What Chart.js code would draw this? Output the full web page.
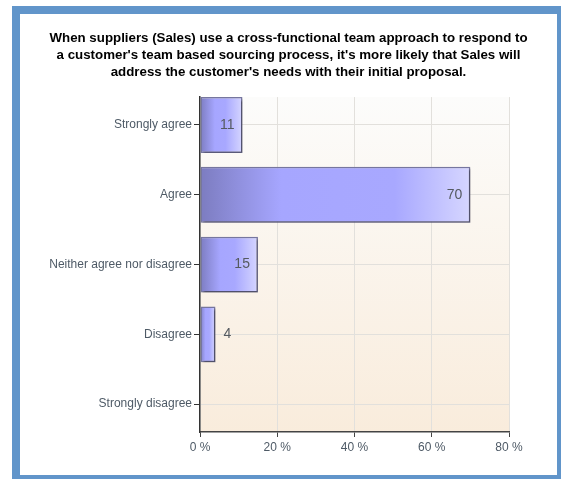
<!DOCTYPE html>
<html>
<head>
<meta charset="utf-8">
<script src="https://cdn.jsdelivr.net/npm/chart.js@4.4.1/dist/chart.umd.min.js"></script>
<style>
  html, body { margin: 0; padding: 0; background: #fff; overflow: hidden; }
  #frame {
    position: absolute; left: 12px; top: 6px;
    width: 553px; height: 477px; box-sizing: border-box;
    border: 8px solid #6195ca; background: #fff;
  }
  #wrap { position: absolute; left: 0; top: 0; width: 537px; height: 461px; }
</style>
</head>
<body>
<div id="frame"><div id="wrap"><canvas id="surveyChart"></canvas></div></div>
<script>
const titleLines = [
    "When suppliers (Sales) use a cross-functional team approach to respond to",
    "a customer's team based sourcing process, it's more likely that Sales will",
    "address the customer's needs with their initial proposal."
];
const answers = ['Strongly agree', 'Agree', 'Neither agree nor disagree', 'Disagree', 'Strongly disagree'];
const percents = [11, 70, 15, 4, 0];
const percentTicks = [0, 20, 40, 60, 80];

const axisFont = "'Liberation Sans', Arial, sans-serif";
const labelColor = '#4e5a66';

document.addEventListener("DOMContentLoaded", () => {
    const canvas = document.getElementById('surveyChart');
    const ctx = canvas.getContext('2d');

    // soft white-to-cream wash behind the plot
    const plotBackground = {
        id: 'plotBackground',
        beforeDraw(chart) {
            const a = chart.chartArea;
            const c = chart.ctx;
            const g = c.createLinearGradient(0, a.top, 0, a.bottom);
            g.addColorStop(0, '#fcfcfb');
            g.addColorStop(1, '#f9ecdc');
            c.save();
            c.fillStyle = g;
            c.fillRect(a.left, a.top, a.right - a.left, a.bottom - a.top);
            c.restore();
        }
    };

    // drop shadow under the bars
    const barShadow = {
        id: 'barShadow',
        beforeDatasetDraw(chart) {
            const c = chart.ctx;
            c.save();
            c.shadowColor = 'rgba(0, 0, 0, 0.35)';
            c.shadowOffsetX = 2;
            c.shadowOffsetY = 2;
            c.shadowBlur = 2;
        },
        afterDatasetDraw(chart) {
            chart.ctx.restore();
        }
    };

    // value at the end of each bar, inside when there is room
    const barValues = {
        id: 'barValues',
        afterDatasetsDraw(chart) {
            const c = chart.ctx;
            const meta = chart.getDatasetMeta(0);
            c.save();
            c.font = '14px ' + axisFont;
            c.fillStyle = '#555a60';
            c.textBaseline = 'middle';
            meta.data.forEach((bar, i) => {
                const v = percents[i];
                if (!v) return;
                const text = String(v);
                const w = c.measureText(text).width;
                if (bar.x - bar.base > w + 16) {
                    c.textAlign = 'right';
                    c.fillText(text, bar.x - 8, bar.y);
                } else {
                    c.textAlign = 'left';
                    c.fillText(text, bar.x + 8, bar.y);
                }
            });
            c.restore();
        }
    };

    function barFill(context) {
        const chart = context.chart;
        if (!chart.chartArea) return '#a6a6ff';
        const x = chart.scales.x;
        const v = percents[context.dataIndex];
        const x0 = x.getPixelForValue(0);
        const x1 = x.getPixelForValue(v);
        if (x1 - x0 < 1) return '#a6a6ff';
        const g = chart.ctx.createLinearGradient(x0, 0, x1, 0);
        const wide = (x1 - x0) > 100;
        g.addColorStop(0, '#7c7cc0');
        g.addColorStop(wide ? 0.3 : 0.35, '#a6a6ff');
        g.addColorStop(wide ? 0.72 : 0.6, '#a8a8ff');
        g.addColorStop(1, '#d6d6ff');
        return g;
    }

    const data = {
        datasets: [{
            label: 'Responses',
            data: percents.map((v, i) => ({ x: v, y: i })),
            backgroundColor: barFill,
            borderColor: '#76769f',
            borderWidth: (context) => percents[context.dataIndex] ? 1.5 : 0,
            borderSkipped: false,
            categoryPercentage: 0.8,
            barPercentage: 1.0
        }]
    };

    const config = {
        type: 'bar',
        data: data,
        options: {
            indexAxis: 'y',
            responsive: true,
            maintainAspectRatio: false,
            animation: false,
            layout: {
                padding: 0
            },
            scales: {
                x: {
                    type: 'linear',
                    min: percentTicks[0],
                    max: percentTicks[percentTicks.length - 1],
                    afterBuildTicks: (scale) => {
                        scale.ticks = percentTicks.map(v => ({ value: v }));
                    },
                    afterFit: (scale) => {
                        scale.height = 43;
                        scale.paddingRight = 48;
                    },
                    grid: {
                        color: '#e2e0dc',
                        tickColor: '#444',
                        tickLength: 5
                    },
                    border: { color: '#444', width: 1.5 },
                    ticks: {
                        color: labelColor,
                        padding: 3,
                        font: { size: 12, family: axisFont },
                        callback: (v) => v + ' %'
                    }
                },
                y: {
                    type: 'linear',
                    reverse: true,
                    bounds: 'data',
                    offset: false,
                    min: -0.4,
                    max: answers.length - 0.6,
                    afterBuildTicks: (scale) => {
                        scale.ticks = answers.map((a, i) => ({ value: i }));
                    },
                    afterFit: (scale) => { scale.width = 180; },
                    grid: {
                        offset: false,
                        color: '#e2e0dc',
                        tickColor: '#333',
                        tickLength: 6
                    },
                    border: { color: '#333', width: 1.5 },
                    ticks: {
                        color: labelColor,
                        padding: 2,
                        font: { size: 12, family: axisFont },
                        callback: (v) => answers[v]
                    }
                }
            },
            plugins: {
                legend: { display: false },
                tooltip: { enabled: false },
                title: {
                    display: true,
                    text: titleLines,
                    color: '#000',
                    font: { size: 13.3, weight: 'bold', family: "'Liberation Sans', Arial, sans-serif", lineHeight: 1.28 },
                    padding: { top: 16, bottom: 16 }
                }
            }
        },
        plugins: [plotBackground, barShadow, barValues]
    };

    new Chart(ctx, config);
});
</script>
</body>
</html>
